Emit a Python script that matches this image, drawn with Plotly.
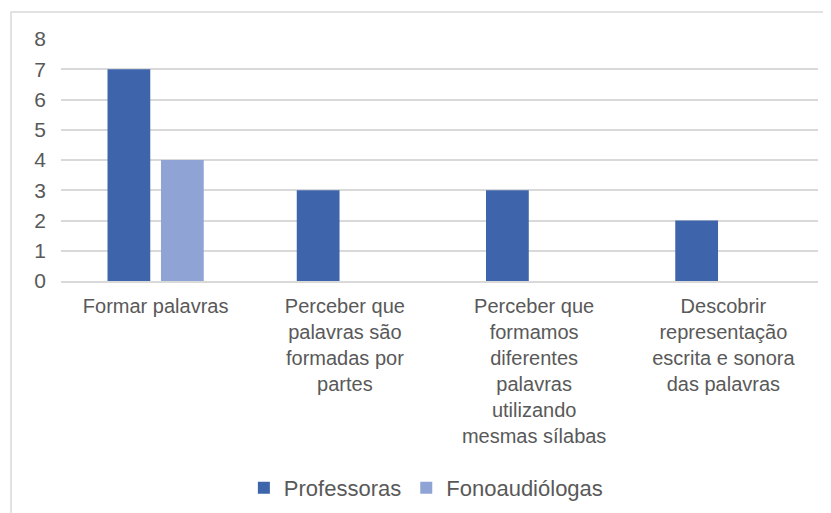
import plotly.graph_objects as go

categories = [
    "Formar palavras",
    "Perceber que<br>palavras são<br>formadas por<br>partes",
    "Perceber que<br>formamos<br>diferentes<br>palavras<br>utilizando<br>mesmas sílabas",
    "Descobrir<br>representação<br>escrita e sonora<br>das palavras",
]
professoras = [7, 3, 3, 2]
fonoaudiologas = [4, 0, 0, 0]
y_ticks = [0, 1, 2, 3, 4, 5, 6, 7, 8]

FONT = "Liberation Sans, Arial, sans-serif"
GRAY = "#595959"

fig = go.Figure()
fig.add_trace(go.Bar(x=categories, y=professoras, name="Professoras",
                     marker=dict(color="#3E64AC", line=dict(width=0))))
fig.add_trace(go.Bar(x=categories, y=fonoaudiologas, name="Fonoaudiólogas",
                     marker=dict(color="#8FA4D4", line=dict(width=0))))

fig.update_layout(
    width=831, height=513,
    margin=dict(l=53, r=21, t=31, b=240, autoexpand=False),
    paper_bgcolor="white", plot_bgcolor="white",
    barmode="group", bargap=0.435, bargroupgap=0.2,
    font=dict(family=FONT, size=20, color=GRAY),
    showlegend=True,
    legend=dict(orientation="h", x=0.482, xanchor="center", y=-0.855, yanchor="middle",
                font=dict(family=FONT, size=22, color=GRAY), traceorder="normal"),
    shapes=[dict(type="rect", xref="paper", yref="paper",
                 x0=-0.066, x1=3, y0=-3, y1=1.1116,
                 line=dict(color="#d9d9d9", width=1.5), layer="below")],
)
fig.update_yaxes(range=[0, 8], tickvals=y_ticks, showgrid=True, gridcolor="#d9d9d9",
                 gridwidth=1.5, zeroline=False, showline=False, ticks="",
                 automargin=False, ticklabelstandoff=14,
                 tickfont=dict(family=FONT, size=21, color=GRAY))
fig.update_xaxes(showline=True, linecolor="#d9d9d9", linewidth=1.5, ticks="",
                 automargin=False, ticklabelstandoff=6, tickangle=0,
                 tickfont=dict(family=FONT, size=20, color=GRAY))

fig.write_html("out.html")
